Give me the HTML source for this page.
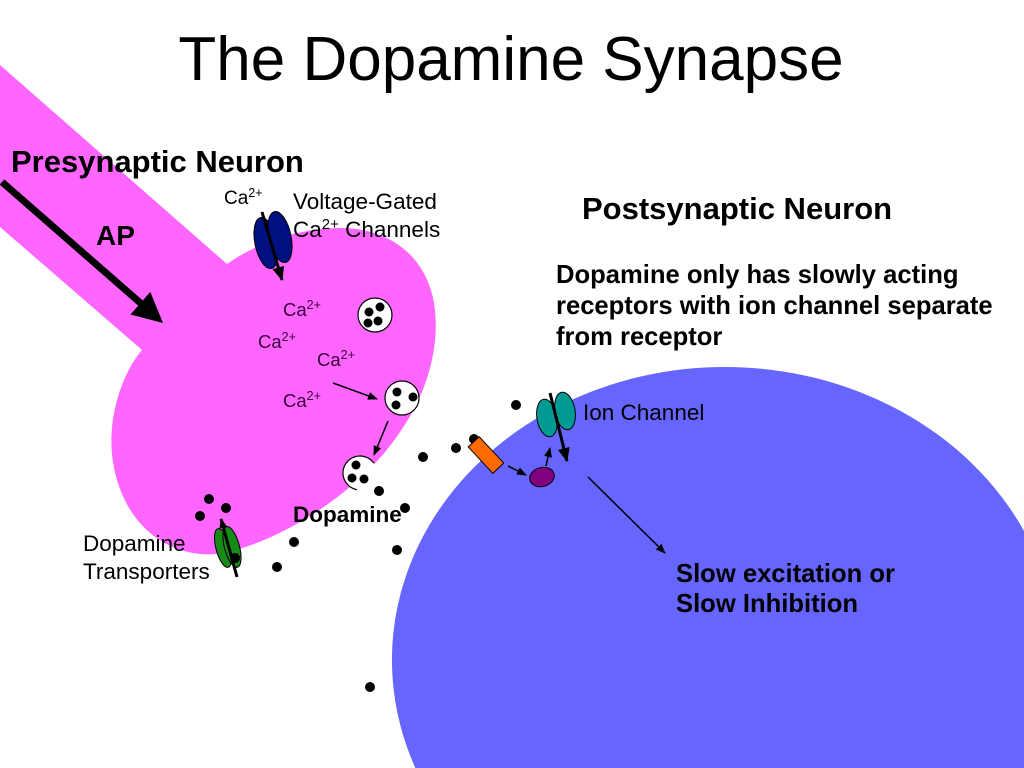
<!DOCTYPE html>
<html>
<head>
<meta charset="utf-8">
<style>
  html, body { margin:0; padding:0; background:#fff; overflow:hidden; }
  body { width:1024px; height:768px; overflow:hidden; }
  svg { display:block; overflow:hidden; }
  text { font-family: "Liberation Sans", Arial, sans-serif; }
</style>
</head>
<body>
<svg width="1024" height="768" viewBox="0 0 1024 768" xmlns="http://www.w3.org/2000/svg">
  <defs>
    <marker id="ah" markerWidth="10" markerHeight="10" refX="9" refY="5" orient="auto" markerUnits="userSpaceOnUse">
      <path d="M0,1 L10,5 L0,9 Z" fill="#000"/>
    </marker>
    <marker id="ahb" markerWidth="14" markerHeight="12" refX="13" refY="6" orient="auto" markerUnits="userSpaceOnUse">
      <path d="M0,0 L14,6 L0,12 Z" fill="#000"/>
    </marker>
  </defs>

  <rect width="1024" height="768" fill="#fff"/>

  <!-- Postsynaptic neuron (ellipse clipped to frame) -->
  <path d="M415.4,768 A333,293 0 0 1 725,367 A333,293 0 0 1 1024,531 L1024,768 Z" fill="#6666ff"/>

  <!-- Presynaptic neuron -->
  <path d="M0,65 L227,264 C255,245 290,229 340,228 C395,228 430,262 435,310 C440,360 420,410 385,452 C345,500 280,540 225,553 C170,562 120,525 112,455 C108,410 125,370 142,350 L0,227 Z" fill="#ff66ff"/>

  <!-- Title -->
  <text x="511" y="80" font-size="62" text-anchor="middle" fill="#000">The Dopamine Synapse</text>

  <!-- Labels -->
  <text x="11" y="172" font-size="31" font-weight="bold" fill="#000">Presynaptic Neuron</text>
  <text x="96" y="245" font-size="28" font-weight="bold" fill="#000">AP</text>

  <text x="224" y="204" font-size="19" fill="#000">Ca<tspan font-size="12.5" dy="-7">2+</tspan></text>
  <text x="293" y="209" font-size="22.5" fill="#000">Voltage-Gated</text>
  <text x="293" y="237" font-size="22.5" fill="#000">Ca<tspan font-size="15" dy="-8">2+</tspan><tspan dy="8"> Channels</tspan></text>

  <text x="582" y="219" font-size="31" font-weight="bold" fill="#000">Postsynaptic Neuron</text>
  <text x="556" y="283" font-size="25.6" font-weight="bold" fill="#000">Dopamine only has slowly acting</text>
  <text x="556" y="314" font-size="25.6" font-weight="bold" fill="#000">receptors with ion channel separate</text>
  <text x="556" y="345" font-size="25.6" font-weight="bold" fill="#000">from receptor</text>

  <text x="583" y="420" font-size="22.5" fill="#000">Ion Channel</text>
  <text x="676" y="582" font-size="25.6" font-weight="bold" fill="#000">Slow excitation or</text>
  <text x="676" y="612" font-size="25.6" font-weight="bold" fill="#000">Slow Inhibition</text>

  <text x="293" y="522" font-size="22.5" font-weight="bold" fill="#000">Dopamine</text>
  <text x="83" y="551" font-size="22.5" fill="#000">Dopamine</text>
  <text x="83" y="579" font-size="22.5" fill="#000">Transporters</text>

  <!-- Ca2+ labels inside terminal -->
  <g fill="#3a003a" font-size="18.5">
    <text x="283" y="316">Ca<tspan font-size="12.5" dy="-7">2+</tspan></text>
    <text x="258" y="348">Ca<tspan font-size="12.5" dy="-7">2+</tspan></text>
    <text x="317" y="366">Ca<tspan font-size="12.5" dy="-7">2+</tspan></text>
    <text x="283" y="407">Ca<tspan font-size="12.5" dy="-7">2+</tspan></text>
  </g>

  <!-- AP arrow -->
  <line x1="2" y1="182" x2="145" y2="307" stroke="#000" stroke-width="7"/>
  <polygon points="163,323 130.5,314.5 150.3,291.9" fill="#000"/>

  <!-- Voltage-gated Ca channel -->
  <ellipse cx="266" cy="243" rx="11" ry="26" transform="rotate(-12 266 243)" fill="#001080" stroke="#000" stroke-width="1"/>
  <ellipse cx="280" cy="237" rx="11" ry="26" transform="rotate(-12 280 237)" fill="#001080" stroke="#000" stroke-width="1"/>
  <line x1="262" y1="212" x2="282" y2="280" stroke="#000" stroke-width="3" marker-end="url(#ahb)"/>

  <!-- Vesicles -->
  <circle cx="375" cy="315" r="17" fill="#fff" stroke="#000" stroke-width="1.2"/>
  <g fill="#000">
    <circle cx="369" cy="312" r="4.5"/><circle cx="380" cy="307" r="4.5"/>
    <circle cx="368" cy="323" r="4.5"/><circle cx="378" cy="321" r="4.5"/>
  </g>
  <circle cx="402" cy="398" r="17" fill="#fff" stroke="#000" stroke-width="1.2"/>
  <g fill="#000">
    <circle cx="397" cy="392" r="4.5"/><circle cx="413" cy="397" r="4.5"/><circle cx="396" cy="405" r="4.5"/>
  </g>
  <circle cx="360" cy="473" r="17" fill="#fff"/>
  <path d="M357,489.7 A17,17 0 1 1 373.9,463.2" fill="none" stroke="#000" stroke-width="1.2"/>
  <g fill="#000">
    <circle cx="356" cy="465" r="4.5"/><circle cx="352" cy="478" r="4.5"/><circle cx="364" cy="479" r="4.5"/>
  </g>

  <!-- small arrows in terminal -->
  <line x1="333" y1="383" x2="377" y2="399" stroke="#000" stroke-width="1.5" marker-end="url(#ah)"/>
  <line x1="388" y1="421" x2="374" y2="455" stroke="#000" stroke-width="1.5" marker-end="url(#ah)"/>

  <!-- Dopamine molecules -->
  <g fill="#000">
    <circle cx="209" cy="499" r="5"/><circle cx="226" cy="508" r="5"/><circle cx="200" cy="516" r="5"/>
    <circle cx="294" cy="542" r="5"/><circle cx="277" cy="567" r="5"/>
    <circle cx="379" cy="491" r="5"/><circle cx="405" cy="508" r="5"/><circle cx="397" cy="550" r="5"/>
    <circle cx="423" cy="457" r="5"/><circle cx="456" cy="448" r="5"/><circle cx="474" cy="439" r="5"/>
    <circle cx="516" cy="405" r="5"/><circle cx="370" cy="687" r="5"/>
  </g>

  <!-- Dopamine transporter -->
  <ellipse cx="223" cy="548" rx="7" ry="20" transform="rotate(-15 223 548)" fill="#188a18" stroke="#000" stroke-width="1"/>
  <ellipse cx="232" cy="547" rx="7.5" ry="21" transform="rotate(-15 232 547)" fill="#188a18" stroke="#000" stroke-width="1"/>
  <circle cx="235" cy="558" r="5" fill="#000"/>
  <line x1="237" y1="577" x2="221" y2="519" stroke="#000" stroke-width="3" marker-end="url(#ah)"/>

  <!-- Receptor (orange) -->
  <rect x="-7.5" y="-18" width="15" height="36" transform="translate(486 455) rotate(-43)" fill="#ff6a00" stroke="#000" stroke-width="1"/>
  <line x1="508" y1="466" x2="526" y2="475" stroke="#000" stroke-width="1.5" marker-end="url(#ah)"/>

  <!-- G-protein (purple) -->
  <ellipse cx="542" cy="477" rx="12.5" ry="9.5" transform="rotate(-15 542 477)" fill="#800080" stroke="#000" stroke-width="1"/>
  <line x1="546" y1="466" x2="550" y2="448" stroke="#000" stroke-width="1.5" marker-end="url(#ah)"/>

  <!-- Ion channel -->
  <ellipse cx="547" cy="418" rx="10" ry="19" transform="rotate(-10 547 418)" fill="#009a95" stroke="#000" stroke-width="1"/>
  <ellipse cx="565" cy="411" rx="10" ry="19" transform="rotate(-10 565 411)" fill="#009a95" stroke="#000" stroke-width="1"/>
  <line x1="550" y1="393" x2="567" y2="461" stroke="#000" stroke-width="3" marker-end="url(#ahb)"/>

  <!-- long arrow -->
  <line x1="588" y1="477" x2="665" y2="553" stroke="#000" stroke-width="1.5" marker-end="url(#ah)"/>
</svg>
</body>
</html>
